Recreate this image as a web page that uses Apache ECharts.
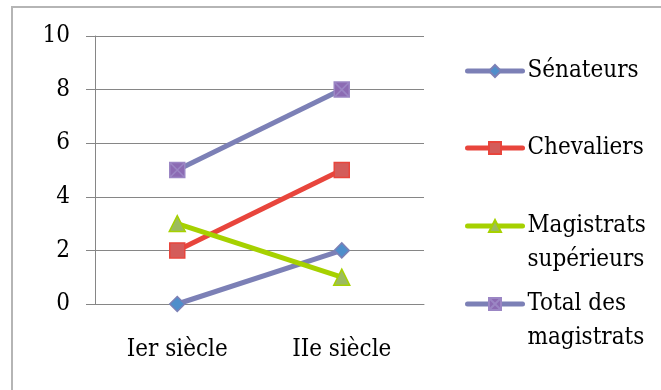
<!DOCTYPE html>
<html>
<head>
<meta charset="utf-8">
<script src="https://cdn.jsdelivr.net/npm/echarts@6/dist/echarts.min.js"></script>
<style>
  html, body { margin: 0; padding: 0; background: #fff; }
  #chart { width: 661px; height: 390px; }
</style>
</head>
<body>
<div id="chart"></div>
<script>
// données
const categories = ["Ier siècle", "IIe siècle"];
const senateurs = [0, 2];
const chevaliers = [2, 5];
const magistratsSup = [3, 1];
const totalMagistrats = [5, 8];
const yTicks = [0, 2, 4, 6, 8, 10];

const FONT = "DejaVu Serif Condensed";
const FS = 24;
const chart = echarts.init(document.getElementById("chart"));

// carré avec croix pour le total
const crossSquare = "path://M0,0L10,0L10,10L0,10Z M0,0L10,10 M10,0L0,10";

const mkSeries = (name, data, lineColor, symbol, size, fill, border) => ({
  name: name,
  type: "line",
  data: data,
  symbol: symbol,
  symbolSize: size,
  lineStyle: { color: lineColor, width: 5 },
  itemStyle: { color: fill, borderColor: border, borderWidth: 1.5 },
  emphasis: { disabled: true },
  animation: false,
});

const series = [
  mkSeries("Sénateurs", senateurs, "#7C80B6", "diamond", 15, "#4F8ECB", "#7C80B6"),
  mkSeries("Chevaliers", chevaliers, "#E8453C", "rect", 15, "#D45C5A", "#E8453C"),
  mkSeries("Magistrats\nsupérieurs", magistratsSup, "#A6D100", "triangle", 16, "#9CBB5E", "#A6D100"),
  mkSeries("Total des\nmagistrats", totalMagistrats, "#7C80B6", crossSquare, 15, "#8C6BB3", "#9B86C4"),
];

// une légende par élément ; ligne vide en tête pour aligner l'icône sur la 1re ligne
const legendTops = [54, 131, 175, 253];
const legends = series.map((s, i) => {
  const multi = s.name.indexOf("\n") >= 0;
  return {
    data: [s.name],
    left: 465,
    top: legendTops[i],
    padding: 0,
    itemWidth: 55,
    itemHeight: 15,
    selectedMode: false,
    lineStyle: { width: 5, cap: "round" },
    formatter: (n) => (multi ? "\n" + n : n),
    textStyle: { fontFamily: FONT, fontSize: FS, color: "#000", lineHeight: 34 },
  };
});

chart.setOption({
  animation: false,
  graphic: [{
    type: "rect",
    shape: { x: 12, y: 7, width: 700, height: 420 },
    style: { fill: "none", stroke: "#B5B5B5", lineWidth: 2 },
    silent: true,
  }],
  legend: legends,
  grid: { left: 95, right: 237, top: 36, bottom: 86 },
  xAxis: {
    type: "category",
    data: categories,
    boundaryGap: true,
    axisLine: { lineStyle: { color: "#868686", width: 1 } },
    axisTick: { length: 9, lineStyle: { color: "#868686" } },
    axisLabel: { fontFamily: FONT, fontSize: FS, color: "#000", margin: 32, lineHeight: 28 },
  },
  yAxis: {
    type: "value",
    min: 0,
    max: 10,
    interval: 2,
    axisLine: { show: true, lineStyle: { color: "#868686", width: 1 } },
    axisTick: { show: true, length: 9, lineStyle: { color: "#868686" } },
    splitLine: { lineStyle: { color: "#868686", width: 1 } },
    axisLabel: {
      fontFamily: FONT, fontSize: FS, color: "#000", margin: 25,
      formatter: (v) => (yTicks.indexOf(v) >= 0 ? String(v) : ""),
    },
  },
  series: series,
});
</script>
</body>
</html>
